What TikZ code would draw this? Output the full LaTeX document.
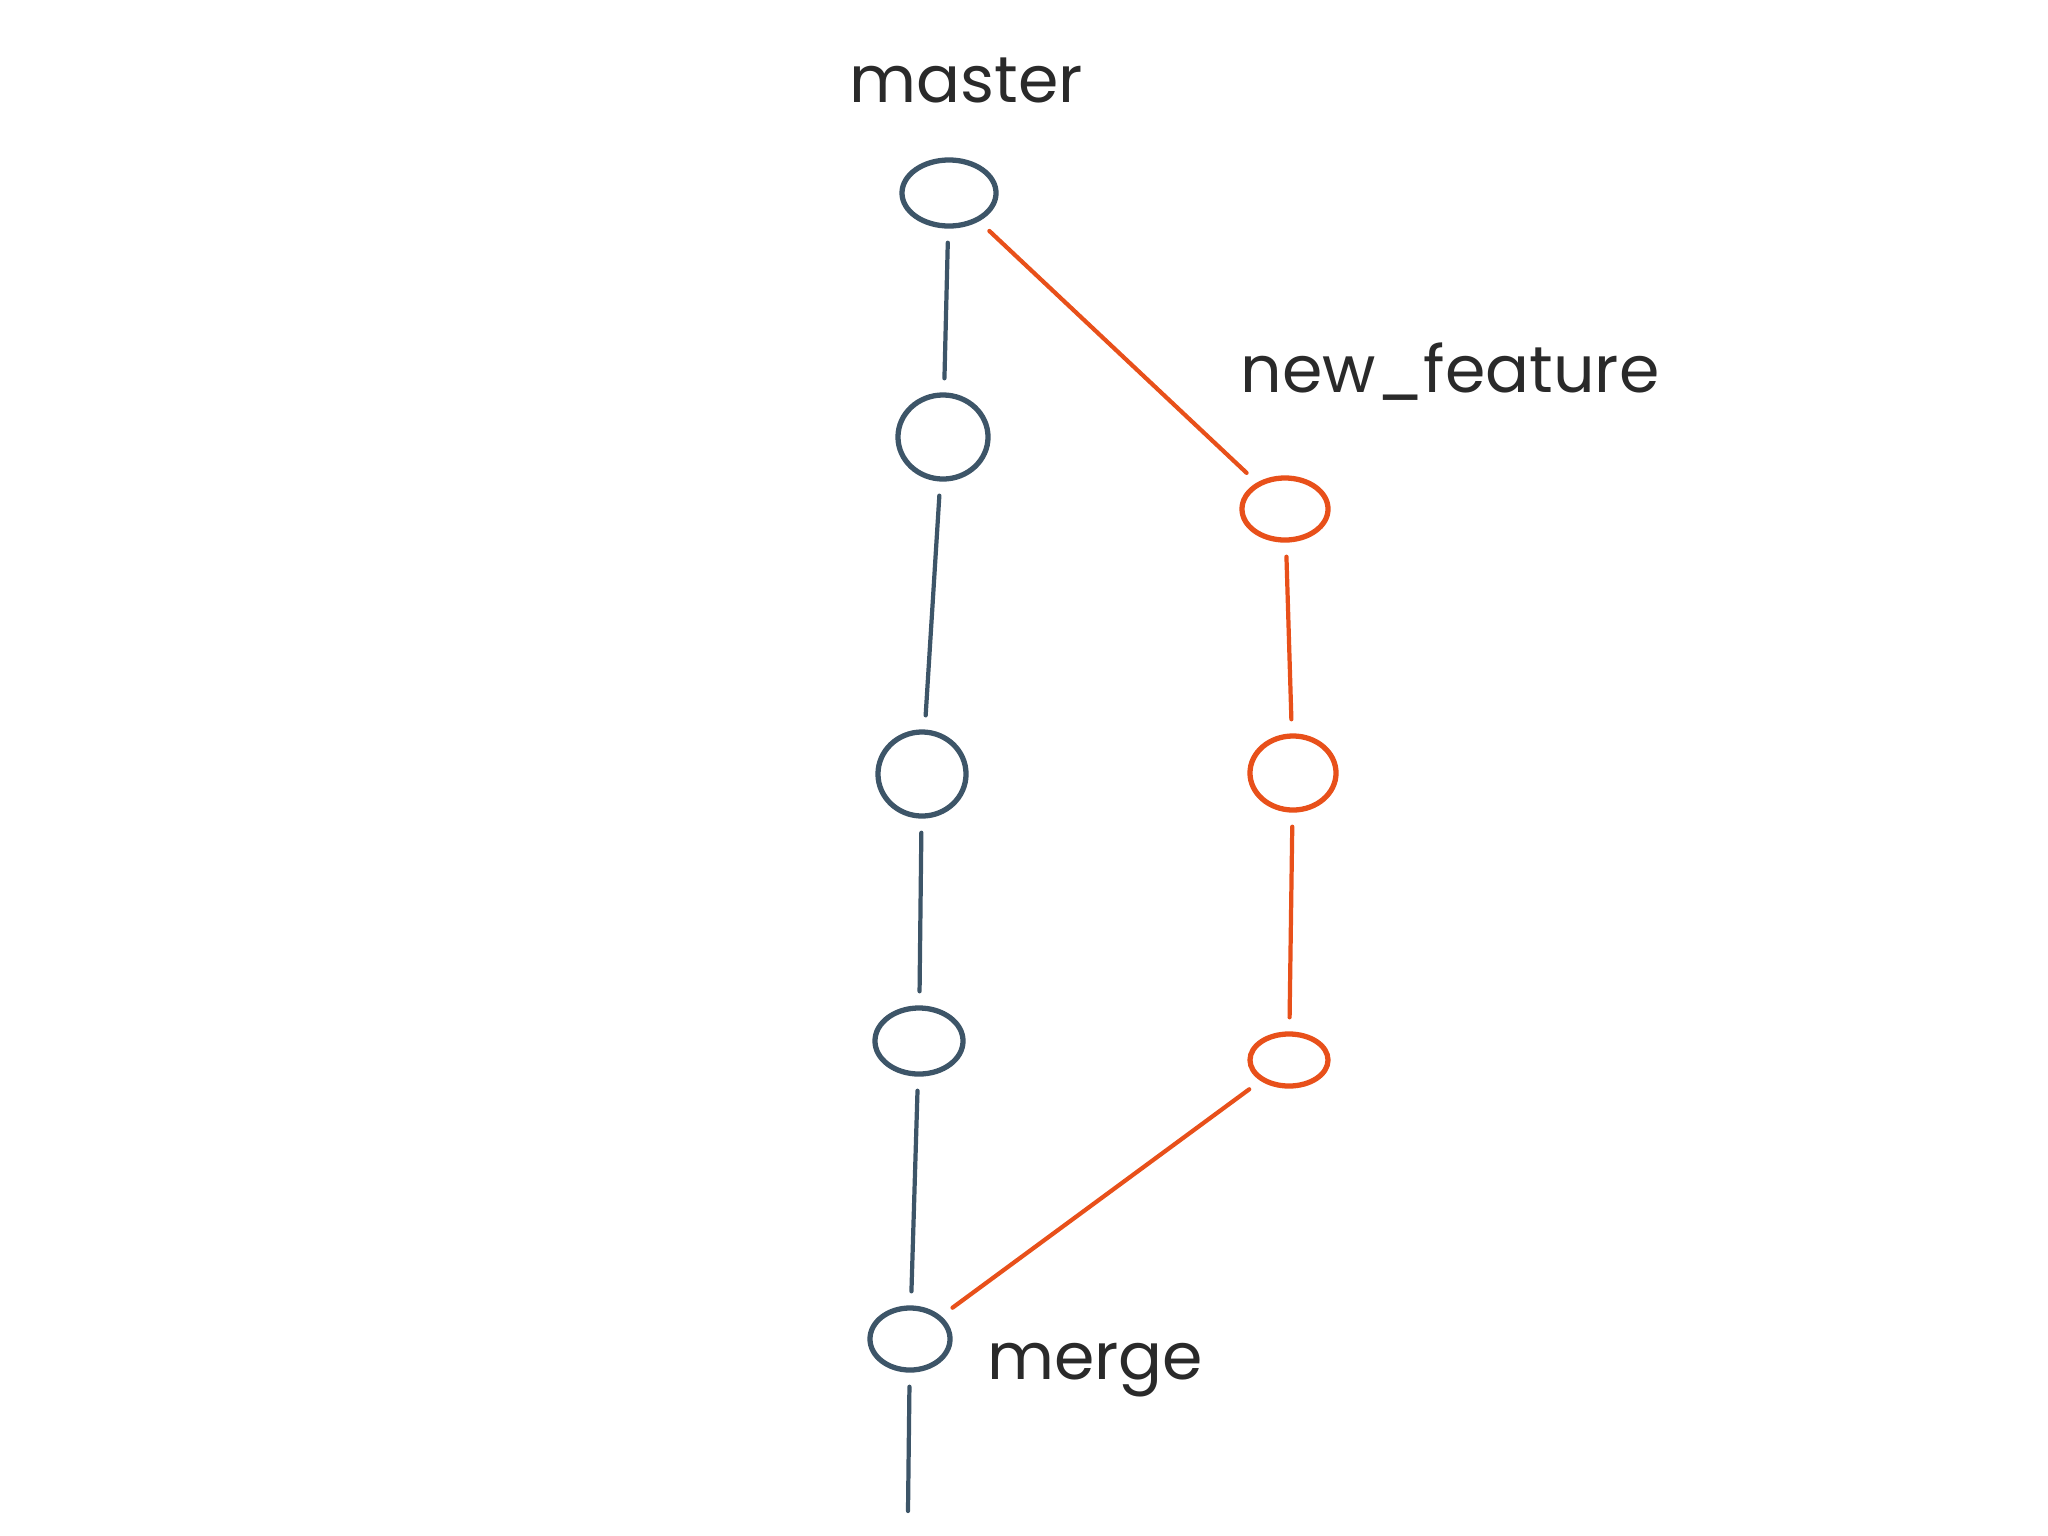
\documentclass[tikz,border=0pt]{standalone}
\usepackage{fontspec}
\setmainfont{Poppins}
\usetikzlibrary{shapes.geometric}
\definecolor{slate}{HTML}{3D5568}
\definecolor{branch}{HTML}{E8501A}
\definecolor{ink}{HTML}{2A2A2A}

\begin{document}
\begin{tikzpicture}[x=0.01cm, y=-0.01cm,
  commit/.style={ellipse, draw, line width=1.5pt, inner sep=0pt},
  trunk/.style={slate, line width=1.2pt, line cap=round, shorten >=4pt, shorten <=4pt},
  side/.style={branch, line width=1.2pt, line cap=round, shorten >=4pt, shorten <=4pt},
  tag/.style={font=\fontsize{18.5}{22}\selectfont, text=ink}]

% ---- canvas ----------------------------------------------------------------
\useasboundingbox (0,0) rectangle (2048,1536);

% ---- master commits --------------------------------------------------------
\node[commit, slate, minimum width=0.94cm, minimum height=0.66cm] (m1) at (949,193) {};
\node[commit, slate, minimum width=0.90cm, minimum height=0.84cm] (m2) at (943,437) {};
\node[commit, slate, minimum width=0.88cm, minimum height=0.84cm] (m3) at (922,774) {};
\node[commit, slate, minimum width=0.88cm, minimum height=0.66cm] (m4) at (919,1041) {};
\node[commit, slate, minimum width=0.80cm, minimum height=0.62cm] (mg) at (910,1339) {};
\coordinate (tail) at (908,1511);

% ---- branch commits --------------------------------------------------------
\node[commit, branch, minimum width=0.86cm, minimum height=0.62cm] (f1) at (1285,509) {};
\node[commit, branch, minimum width=0.86cm, minimum height=0.74cm] (f2) at (1293,773) {};
\node[commit, branch, minimum width=0.78cm, minimum height=0.52cm] (f3) at (1289,1060) {};

% ---- history lines ---------------------------------------------------------
\draw[trunk] (m1) -- (m2);
\draw[trunk] (m2) -- (m3);
\draw[trunk] (m3) -- (m4);
\draw[trunk] (m4) -- (mg);
\draw[trunk, shorten >=0pt] (mg) -- (tail);

\draw[side] (m1) -- (f1);
\draw[side] (f1) -- (f2);
\draw[side] (f2) -- (f3);
\draw[side] (f3) -- (mg);

% ---- labels ----------------------------------------------------------------
\node[tag] (lmaster) at (966,80) {master};
\node[tag] (lfeature) at (1450,372) {new\_feature};
\node[tag] (lmerge) at (1095,1370) {merge};

\end{tikzpicture}
\end{document}
